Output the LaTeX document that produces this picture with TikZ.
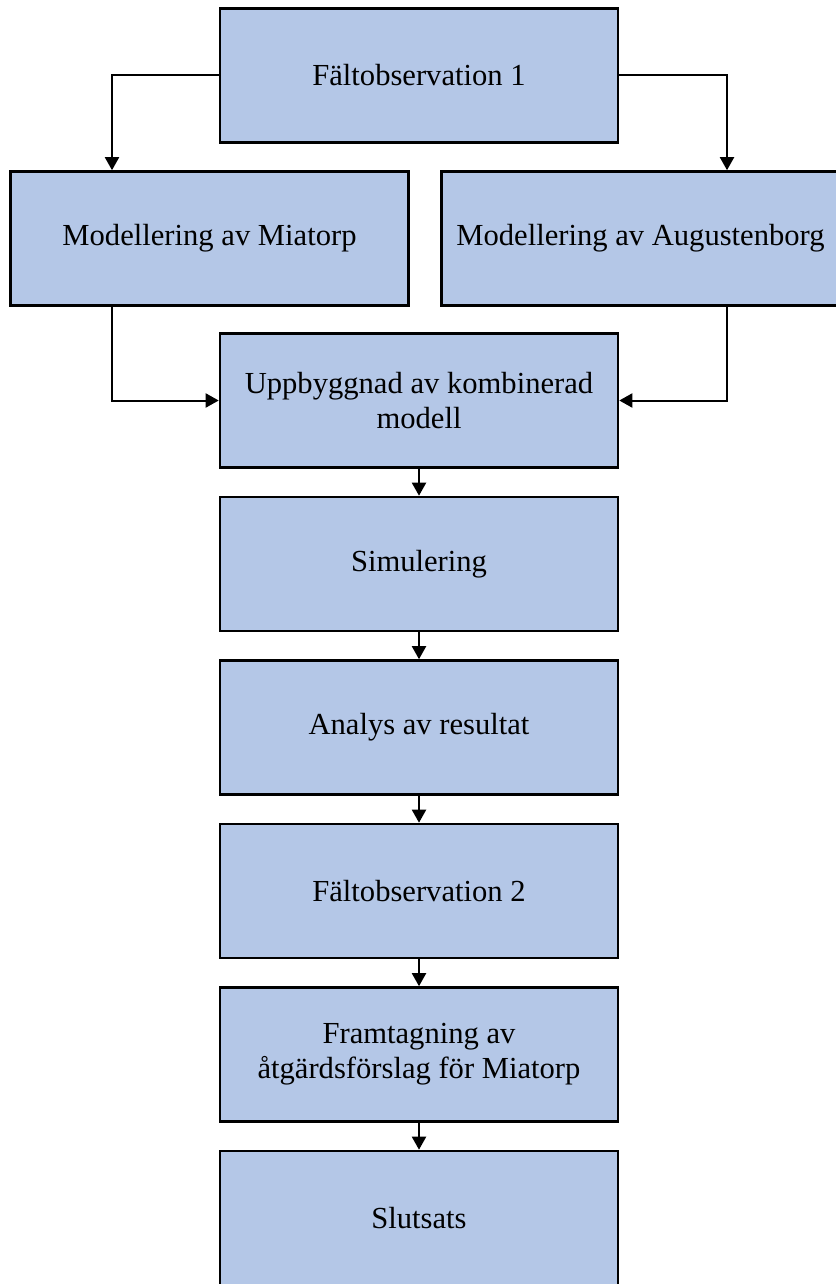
\documentclass[tikz,border=0pt]{standalone}
\usepackage{fontspec}
\setmainfont{Liberation Serif}
\usetikzlibrary{positioning, arrows.meta}
\definecolor{boxblue}{HTML}{B4C7E7}

\begin{document}
\begin{tikzpicture}[x=1pt, y=-1pt, node distance=163.5pt, on grid, >={Triangle[width=14pt, length=13pt]},
    stepbox/.style={draw, line width=2.6pt, fill=boxblue, minimum width=398pt, minimum height=134pt,
        align=center, font=\fontsize{30.6}{35}\selectfont},
    link/.style={->, line width=2pt}]
    \useasboundingbox (0,0) rectangle (835,1284);

    % Top row
    \node[stepbox] (f1) at (419,75.5) {Fältobservation 1};
    \node[stepbox] (mia) at (209.5,238.5) {Modellering av Miatorp};
    \node[stepbox] (aug) at (640.5,238.5) {Modellering av Augustenborg};
    \coordinate (lcol) at (112,0);
    \coordinate (rcol) at (727,0);

    % Main chain
    \node[stepbox] (upp) [below=of f1, yshift=-161.5pt] {Uppbyggnad av kombinerad\\modell};
    \node[stepbox] (sim) [below=of upp] {Simulering};
    \node[stepbox] (ana) [below=of sim] {Analys av resultat};
    \node[stepbox] (f2) [below=of ana] {Fältobservation 2};
    \node[stepbox] (fram) [below=of f2] {Framtagning av\\åtgärdsförslag för Miatorp};
    \node[stepbox] (slut) [below=of fram] {Slutsats};

    % Connectors
    \draw[link] (f1.west) -| (mia.north -| lcol);
    \draw[link] (f1.east) -| (aug.north -| rcol);
    \draw[link] (mia.south -| lcol) |- (upp.west);
    \draw[link] (aug.south -| rcol) |- (upp.east);
    \draw[link] (upp) -- (sim);
    \draw[link] (sim) -- (ana);
    \draw[link] (ana) -- (f2);
    \draw[link] (f2) -- (fram);
    \draw[link] (fram) -- (slut);
\end{tikzpicture}
\end{document}
